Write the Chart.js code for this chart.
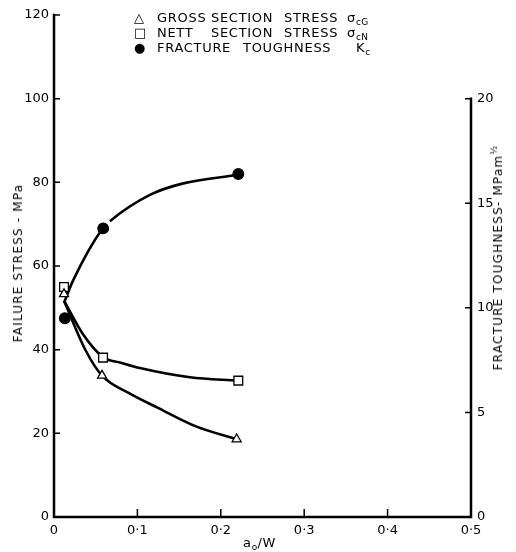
<!DOCTYPE html>
<html>
<head>
<meta charset="utf-8">
<script src="https://cdn.jsdelivr.net/npm/chart.js@4/dist/chart.umd.min.js"></script>
<style>
  html, body { margin: 0; padding: 0; background: #fff; }
  #wrap { position: relative; width: 516px; height: 552px; font-family: "DejaVu Sans", sans-serif; color: #000; }
  #c { position: absolute; left: 0; top: 0; }
  .lbl { position: absolute; white-space: pre; font-size: 13px; letter-spacing: 0.7px; line-height: 15px; }
  .rot { position: absolute; white-space: pre; font-size: 12px; letter-spacing: 1.2px; transform: translate(-50%, -50%) rotate(-90deg); line-height: 14px; }
  sub, sup { font-size: 9px; letter-spacing: 0.3px; }
  sub { vertical-align: -3px; }
  sup { vertical-align: 5px; }
</style>
</head>
<body>
<div id="wrap">
  <canvas id="c" width="516" height="552"></canvas>
  <div class="lbl" style="left:134px;top:10px;">△</div>
  <div class="lbl" style="left:157px;top:10px;">GROSS</div>
  <div class="lbl" style="left:211px;top:10px;">SECTION</div>
  <div class="lbl" style="left:284px;top:10px;">STRESS</div>
  <div class="lbl" style="left:347px;top:10px;">σ<sub>cG</sub></div>
  <div class="lbl" style="left:134px;top:25px;">□</div>
  <div class="lbl" style="left:157px;top:25px;">NETT</div>
  <div class="lbl" style="left:211px;top:25px;">SECTION</div>
  <div class="lbl" style="left:284px;top:25px;">STRESS</div>
  <div class="lbl" style="left:347px;top:25px;">σ<sub>cN</sub></div>
  <div class="lbl" style="left:134px;top:40px;">●</div>
  <div class="lbl" style="left:157px;top:40px;">FRACTURE</div>
  <div class="lbl" style="left:243px;top:40px;">TOUGHNESS</div>
  <div class="lbl" style="left:356px;top:40px;">K<sub>c</sub></div>
  <div class="rot" style="left:18px;top:263px;">FAILURE STRESS - MPa</div>
  <div class="rot" style="left:496px;top:258px;">FRACTURE TOUGHNESS- MPam<sup>½</sup></div>
  <div class="lbl" style="left:243px;top:535px;font-size:13px;">a<sub>o</sub>/W</div>
</div>
<script>
// ---- data ----
const xTicks = [0, 0.1, 0.2, 0.3, 0.4, 0.5];
const yLeftTicks = [0, 20, 40, 60, 80, 100, 120];
const yRightTicks = [0, 5, 10, 15, 20];

// measured points
const grossX = [0.012, 0.0576, 0.219];
const grossY = [53.3, 33.8, 18.6];
const nettX = [0.012, 0.0588, 0.221];
const nettY = [55.0, 38.1, 32.6];
const kcX = [0.013, 0.059, 0.221];
const kcY = [9.5, 13.8, 16.4];

// fitted curves
const grossCurveX = [0.012, 0.038, 0.0576, 0.09, 0.1235, 0.171, 0.219];
const grossCurveY = [51.7, 39.8, 33.8, 29.6, 26.2, 21.6, 18.6];
const nettCurveX = [0.012, 0.035, 0.0588, 0.08, 0.103, 0.163, 0.221];
const nettCurveY = [51.7, 43.6, 38.2, 36.9, 35.6, 33.4, 32.6];
const kcCurveX = [0.012, 0.0228, 0.0576, 0.067, 0.115, 0.155, 0.219];
const kcCurveY = [10.24, 11.3, 13.76, 14.14, 15.4, 15.95, 16.35];

const pts = (xs, ys) => xs.map((x, i) => ({ x: x, y: ys[i] }));
const fmt = v => String(Math.round(v * 10) / 10).replace('.', '·');

const axesPlugin = {
  id: 'axesPlugin',
  afterDatasetsDraw(chart) {
    const { ctx, chartArea: a, scales } = chart;
    const x = scales.x, y = scales.y, y2 = scales.y2;
    ctx.save();
    ctx.strokeStyle = '#000';
    ctx.lineCap = 'square';
    ctx.lineWidth = 2.5;
    ctx.beginPath();
    ctx.moveTo(a.left, y.getPixelForValue(120));
    ctx.lineTo(a.left, y.getPixelForValue(0));
    ctx.lineTo(a.right, y.getPixelForValue(0));
    ctx.moveTo(a.right, y2.getPixelForValue(0));
    ctx.lineTo(a.right, y2.getPixelForValue(20));
    ctx.stroke();
    ctx.lineWidth = 1.5;
    ctx.lineCap = 'butt';
    ctx.beginPath();
    yLeftTicks.forEach(v => {
      if (v === 0) return;
      const p = y.getPixelForValue(v);
      ctx.moveTo(a.left, p); ctx.lineTo(a.left + 6, p);
    });
    xTicks.forEach(v => {
      if (v === 0 || v === 0.5) return;
      const p = x.getPixelForValue(v);
      ctx.moveTo(p, a.bottom); ctx.lineTo(p, a.bottom - 8);
    });
    yRightTicks.forEach(v => {
      if (v === 0) return;
      const p = y2.getPixelForValue(v);
      ctx.moveTo(a.right, p); ctx.lineTo(a.right - 6, p);
    });
    ctx.stroke();
    ctx.restore();
  }
};

const curveStyle = {
  showLine: true, pointRadius: 0, borderColor: '#000', borderWidth: 2.6,
  cubicInterpolationMode: 'monotone', fill: false, order: 2
};
const markStyle = { showLine: false, borderColor: '#000', borderWidth: 1.3, order: 1 };

new Chart(document.getElementById('c'), {
  type: 'scatter',
  data: {
    datasets: [
      Object.assign({ label: 'gross curve', data: pts(grossCurveX, grossCurveY), yAxisID: 'y' }, curveStyle),
      Object.assign({ label: 'nett curve', data: pts(nettCurveX, nettCurveY), yAxisID: 'y' }, curveStyle),
      Object.assign({ label: 'Kc curve', data: pts(kcCurveX, kcCurveY), yAxisID: 'y2',
        segment: { borderColor: c => c.p0DataIndex === 2 ? 'rgba(0,0,0,0)' : '#000' } }, curveStyle),
      Object.assign({ label: 'Gross section stress', data: pts(grossX, grossY), yAxisID: 'y',
        pointStyle: 'triangle', pointRadius: 5.2, backgroundColor: '#fff' }, markStyle),
      Object.assign({ label: 'Nett section stress', data: pts(nettX, nettY), yAxisID: 'y',
        pointStyle: 'rect', pointRadius: 6.2, backgroundColor: '#fff' }, markStyle),
      Object.assign({ label: 'Fracture toughness', data: pts(kcX, kcY), yAxisID: 'y2',
        pointStyle: 'circle', pointRadius: 5.3, backgroundColor: '#000' }, markStyle)
    ]
  },
  options: {
    responsive: false,
    animation: false,
    devicePixelRatio: 1,
    layout: { padding: { top: 15, left: 0, right: 0, bottom: 0 } },
    plugins: { legend: { display: false }, tooltip: { enabled: false } },
    scales: {
      x: {
        type: 'linear', min: 0, max: 0.5,
        grid: { display: false, drawTicks: false }, border: { display: false },
        afterBuildTicks: s => { s.ticks = xTicks.map(v => ({ value: v })); },
        afterFit: s => { s.height = 35; },
        ticks: { padding: 6, color: '#000', font: { family: 'DejaVu Sans', size: 13 }, callback: v => fmt(v), maxRotation: 0 }
      },
      y: {
        type: 'linear', position: 'left', min: 0, max: 120,
        grid: { display: false, drawTicks: false }, border: { display: false },
        afterBuildTicks: s => { s.ticks = yLeftTicks.map(v => ({ value: v })); },
        afterFit: s => { s.width = 54; },
        ticks: { padding: 5, color: '#000', font: { family: 'DejaVu Sans', size: 13 } }
      },
      y2: {
        type: 'linear', position: 'right', min: 0, max: 24,
        grid: { display: false, drawTicks: false }, border: { display: false },
        afterBuildTicks: s => { s.ticks = yRightTicks.map(v => ({ value: v })); },
        afterFit: s => { s.width = 45; },
        ticks: { padding: 6, color: '#000', font: { family: 'DejaVu Sans', size: 13 } }
      }
    }
  },
  plugins: [axesPlugin]
});
</script>
</body>
</html>
